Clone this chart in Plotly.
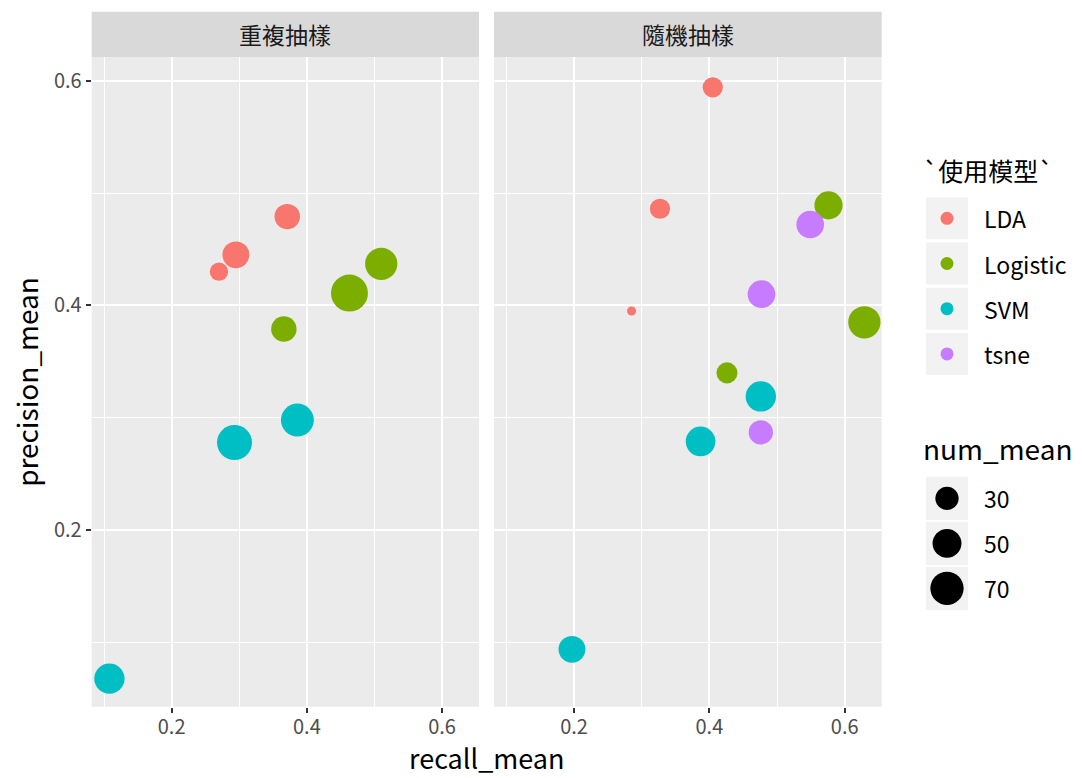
import plotly.graph_objects as go
import numpy as np

# ---------------- data ----------------
facets = ["重複抽樣", "隨機抽樣"]
models = ["LDA", "Logistic", "SVM", "tsne"]
colors = {"LDA": "#F8766D", "Logistic": "#7CAE00", "SVM": "#00BFC4", "tsne": "#C77CFF"}

# 重複抽樣
rep_model = ["LDA", "LDA", "LDA", "Logistic", "Logistic", "Logistic", "SVM", "SVM", "SVM"]
rep_recall = [0.270, 0.295, 0.371, 0.366, 0.463, 0.510, 0.293, 0.386, 0.108]
rep_precision = [0.430, 0.445, 0.479, 0.379, 0.411, 0.437, 0.278, 0.298, 0.068]
rep_num = [18, 42, 37, 37, 90, 65, 79, 68, 56]

# 隨機抽樣
rnd_model = ["LDA", "LDA", "LDA", "Logistic", "Logistic", "Logistic", "SVM", "SVM", "SVM", "tsne", "tsne", "tsne"]
rnd_recall = [0.405, 0.327, 0.285, 0.576, 0.629, 0.426, 0.476, 0.387, 0.197, 0.549, 0.477, 0.476]
rnd_precision = [0.594, 0.486, 0.395, 0.489, 0.385, 0.340, 0.319, 0.279, 0.094, 0.472, 0.410, 0.287]
rnd_num = [22, 22, 9, 47, 65, 24, 56, 53, 42, 45, 45, 33]

size_breaks = [30, 50, 70]

# ---------------- size scale (area-like, ggplot style) ----------------
all_num = np.array(rep_num + rnd_num, dtype=float)
vmin, vmax = all_num.min(), all_num.max()
DMIN, DMAX = 9.0, 37.0


def size_of(v):
    v = np.asarray(v, dtype=float)
    return DMIN + (DMAX - DMIN) * np.sqrt((v - vmin) / (vmax - vmin))


FONT = "Noto Sans CJK TC"
W, H = 1082, 778

fig = go.Figure()

panels = [
    ("x", "y", rep_model, rep_recall, rep_precision, rep_num),
    ("x2", "y2", rnd_model, rnd_recall, rnd_precision, rnd_num),
]
for xa, ya, mdl, rc, pr, nm in panels:
    for m in models:
        idx = [i for i, mm in enumerate(mdl) if mm == m]
        if not idx:
            continue
        fig.add_trace(go.Scatter(
            x=[rc[i] for i in idx], y=[pr[i] for i in idx],
            mode="markers", xaxis=xa, yaxis=ya, showlegend=False,
            marker=dict(color=colors[m], size=size_of([nm[i] for i in idx]),
                        line=dict(width=0), opacity=1),
            hoverinfo="skip",
        ))

# ---------------- layout geometry (pixels) ----------------
L_left, L_right = 91.7, 479.0
R_left, R_right = 494.0, 881.7
P_top, P_bot = 57.0, 706.7
S_top = 11.7

xdomL = [L_left / W, L_right / W]
xdomR = [R_left / W, R_right / W]
ydom = [1 - P_bot / H, 1 - P_top / H]
xrange_ = [0.0818, 0.6546]
yrange_ = [0.043, 0.621]

TICKFONT = dict(family=FONT, size=20, color="#4D4D4D")
axis_common = dict(
    showgrid=True, gridcolor="white", gridwidth=2,
    zeroline=False, showline=False,
    ticks="outside", ticklen=5, tickwidth=2, tickcolor="#333333",
    tickfont=TICKFONT,
    minor=dict(showgrid=True, gridcolor="white", gridwidth=1, dtick=0.1, tick0=0.1, ticks=""),
    dtick=0.2, tick0=0.2, tickformat=".1f",
)

fig.update_layout(
    width=W, height=H, margin=dict(l=0, r=0, t=0, b=0),
    paper_bgcolor="white", plot_bgcolor="rgba(0,0,0,0)",
    showlegend=False,
    xaxis=dict(domain=xdomL, range=xrange_, anchor="y", ticklabelstandoff=-3, **axis_common),
    yaxis=dict(domain=ydom, range=yrange_, anchor="x", **axis_common),
    xaxis2=dict(domain=xdomR, range=xrange_, anchor="y2", ticklabelstandoff=-3, **axis_common),
    yaxis2=dict(domain=ydom, range=yrange_, anchor="x2", **{**axis_common, "showticklabels": False, "ticks": ""}),
    xaxis3=dict(domain=[0, 1], range=[0, W], visible=False, anchor="y3"),
    yaxis3=dict(domain=[0, 1], range=[H, 0], visible=False, anchor="x3"),
)

shapes = []
annotations = []
# panel backgrounds and strips
for xa, label in [("x", facets[0]), ("x2", facets[1])]:
    shapes.append(dict(type="rect", xref=f"{xa} domain", yref="paper", x0=0, x1=1,
                       y0=ydom[0], y1=ydom[1], fillcolor="#EBEBEB", line=dict(width=0), layer="below"))
    shapes.append(dict(type="rect", xref=f"{xa} domain", yref="paper", x0=0, x1=1,
                       y0=1 - P_top / H, y1=1 - S_top / H, fillcolor="#D9D9D9", line=dict(width=0), layer="below"))
    annotations.append(dict(text=label, xref=f"{xa} domain", yref="paper", x=0.5,
                            y=1 - (S_top + P_top) / 2 / H, showarrow=False,
                            font=dict(family=FONT, size=23, color="#1A1A1A"),
                            xanchor="center", yanchor="middle"))

# axis titles
annotations.append(dict(text="recall_mean", xref="paper", yref="paper",
                        x=(L_left + R_right) / 2 / W, y=0, showarrow=False, borderpad=0,
                        font=dict(family=FONT, size=27, color="black"), xanchor="center", yanchor="bottom"))
annotations.append(dict(text="precision_mean", xref="paper", yref="paper",
                        x=26 / W, y=1 - (P_top + P_bot) / 2 / H, showarrow=False, textangle=-90,
                        font=dict(family=FONT, size=28, color="black"), xanchor="center", yanchor="middle"))

# ---------------- legends (drawn on pixel overlay axis) ----------------
KEY_X0, KEY_X1 = 926, 968
KEY_CX = (KEY_X0 + KEY_X1) / 2
LABEL_X = 982
LEG_TEXT = dict(family=FONT, size=23, color="black")

annotations.append(dict(text="`使用模型`", xref="x3", yref="y3", x=921, y=170, showarrow=False,
                        font=dict(family=FONT, size=25, color="black"), xanchor="left", yanchor="middle"))
color_key_top = 197.3
key_h, key_step = 42.0, 45.2
for i, m in enumerate(models):
    y0 = color_key_top + i * key_step
    shapes.append(dict(type="rect", xref="x3", yref="y3", x0=KEY_X0, x1=KEY_X1, y0=y0, y1=y0 + key_h,
                       fillcolor="#F2F2F2", line=dict(width=0), layer="below"))
    fig.add_trace(go.Scatter(x=[KEY_CX], y=[y0 + key_h / 2], mode="markers", xaxis="x3", yaxis="y3",
                             showlegend=False, hoverinfo="skip",
                             marker=dict(color=colors[m], size=13, line=dict(width=0))))
    annotations.append(dict(text=m, xref="x3", yref="y3", x=LABEL_X, y=y0 + key_h / 2, showarrow=False,
                            font=LEG_TEXT, xanchor="left", yanchor="middle"))

annotations.append(dict(text="num_mean", xref="x3", yref="y3", x=921, y=448, showarrow=False,
                        font=dict(family=FONT, size=28, color="black"), xanchor="left", yanchor="middle"))
size_key_top = 476.7
for i, b in enumerate(size_breaks):
    y0 = size_key_top + i * 45.0
    shapes.append(dict(type="rect", xref="x3", yref="y3", x0=KEY_X0, x1=KEY_X1, y0=y0, y1=y0 + 43.3,
                       fillcolor="#F2F2F2", line=dict(width=0), layer="below"))
    fig.add_trace(go.Scatter(x=[KEY_CX], y=[y0 + 43.3 / 2], mode="markers", xaxis="x3", yaxis="y3",
                             showlegend=False, hoverinfo="skip",
                             marker=dict(color="black", size=float(size_of([b])[0]), line=dict(width=0))))
    annotations.append(dict(text=str(b), xref="x3", yref="y3", x=LABEL_X, y=y0 + 43.3 / 2, showarrow=False,
                            font=LEG_TEXT, xanchor="left", yanchor="middle"))

fig.update_layout(shapes=shapes, annotations=annotations)
fig.write_html("out.html")
